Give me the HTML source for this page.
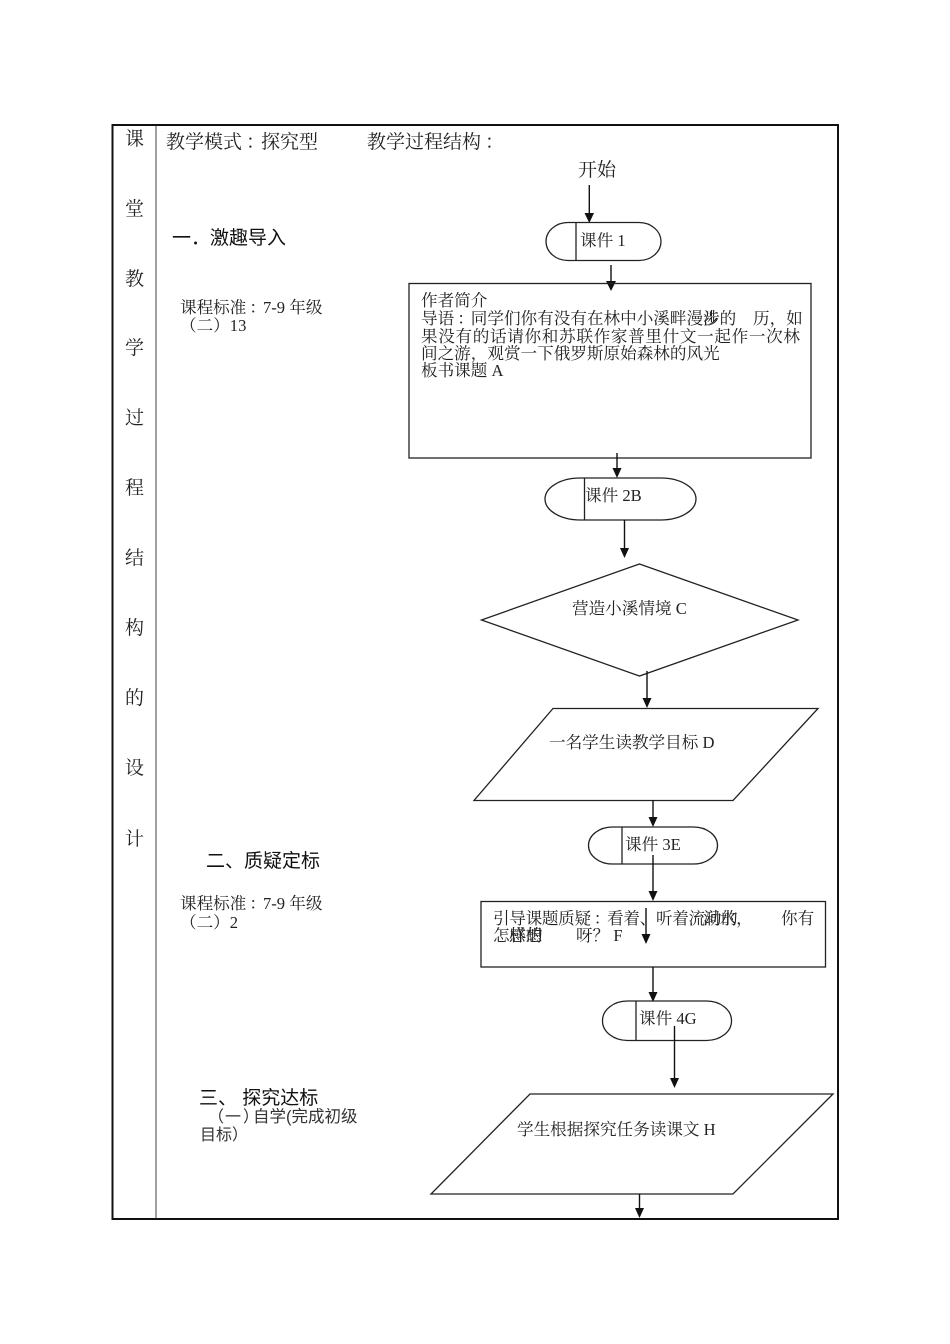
<!DOCTYPE html>
<html lang="zh">
<head>
<meta charset="utf-8">
<style>
html,body{margin:0;padding:0;background:#fff;width:950px;height:1344px;overflow:hidden}
svg{display:block}
text{font-family:"Liberation Serif","Noto Serif CJK SC",serif;fill:#222;white-space:pre}
.s{font-family:"Liberation Sans","Noto Sans CJK SC",sans-serif;fill:#111}
.a{font-size:19px}
.b{font-size:16.6px}
.shape{fill:none;stroke:#222;stroke-width:1.3}
.ln{stroke:#111;stroke-width:1.4;fill:none}
.ah{fill:#111;stroke:none}
</style>
</head>
<body>
<svg width="950" height="1344" viewBox="0 0 950 1344" xmlns="http://www.w3.org/2000/svg">
<rect x="112.500" y="125" width="725.500" height="1094" fill="none" stroke="#111" stroke-width="2"/>
<line x1="156" y1="126" x2="156" y2="1218" stroke="#888" stroke-width="1.6"/>

<g>
<text class="a" x="125" y="145">课</text>
<text class="a" x="125" y="215">堂</text>
<text class="a" x="125" y="285">教</text>
<text class="a" x="125" y="354">学</text>
<text class="a" x="125" y="424">过</text>
<text class="a" x="125" y="494">程</text>
<text class="a" x="125" y="564">结</text>
<text class="a" x="125" y="634">构</text>
<text class="a" x="125" y="704">的</text>
<text class="a" x="125" y="774">设</text>
<text class="a" x="125" y="845">计</text>
</g>

<text class="a" x="166" y="148">教学模式<tspan dx="4">：</tspan><tspan dx="-4">探究型</tspan></text>
<text class="a" x="367" y="148">教学过程结构<tspan dx="4">：</tspan></text>
<text class="a" x="578" y="176">开始</text>

<text class="s" x="172" y="244" font-size="19">一．激趣导入</text>
<text class="b" x="180" y="313">课程标准<tspan dx="3">：</tspan><tspan dx="-3">7-9 年级</tspan></text>
<text class="b" x="180" y="331">（二）13</text>

<text class="s" x="206" y="867" font-size="19">二、质疑定标</text>
<text class="b" x="180" y="909">课程标准<tspan dx="3">：</tspan><tspan dx="-3">7-9 年级</tspan></text>
<text class="b" x="180" y="928">（二）2</text>

<text class="s" x="199" y="1104" font-size="19">三、 探究达标</text>
<text class="s" x="208" y="1122" font-size="16" style="fill:#333">（</text>
<text class="s" x="225" y="1122" font-size="16" style="fill:#333">一</text>
<text class="s" x="243" y="1122" font-size="16" style="fill:#333">）</text>
<text class="s" x="253" y="1122" font-size="16.500" style="fill:#333">自学(完成初级</text>
<text class="s" x="200" y="1140" font-size="16" style="fill:#333">目标）</text>

<line class="ln" x1="589.300" y1="185" x2="589.300" y2="214"/>
<polygon class="ah" points="584.500,213 594,213 589.300,223"/>

<rect class="shape" x="546" y="222.500" width="115" height="38" rx="22" ry="19"/>
<line class="shape" x1="576" y1="222" x2="576" y2="260"/>
<text class="b" x="580" y="246">课件 1</text>
<line class="ln" x1="611" y1="265" x2="611" y2="282"/>
<polygon class="ah" points="606,281 616,281 611,291"/>

<rect class="shape" x="409" y="283.500" width="402" height="174.500"/>
<text class="b" x="421" y="306">作者简介</text>
<text class="b" x="421" y="324">导语<tspan dx="3">：</tspan><tspan dx="-3">同学们你有没有在林中小溪畔漫步的</tspan></text>
<text class="b" x="703" y="324">涉</text>
<text class="b" x="753" y="324">历，如</text>
<text class="b" x="421" y="342" textLength="379" lengthAdjust="spacing">果没有的话请你和苏联作家普里什文一起作一次林</text>
<text class="b" x="421" y="359">间之游，观赏一下俄罗斯原始森林的风光</text>
<text class="b" x="421" y="376">板书课题 A</text>

<line class="ln" x1="617" y1="453" x2="617" y2="469"/>
<polygon class="ah" points="612.500,468 621.500,468 617,478"/>

<rect class="shape" x="545" y="478" width="151" height="42" rx="35" ry="21"/>
<line class="shape" x1="584.500" y1="478" x2="584.500" y2="520"/>
<text class="b" x="585" y="501">课件 2B</text>
<line class="ln" x1="624.500" y1="520" x2="624.500" y2="549"/>
<polygon class="ah" points="620,548 629,548 624.500,558"/>

<polygon class="shape" points="639.500,564 798,620 639.500,676 481.500,620"/>
<text class="b" x="572" y="614">营造小溪情境 C</text>
<line class="ln" x1="647" y1="671" x2="647" y2="699"/>
<polygon class="ah" points="642.500,698 651.500,698 647,708"/>

<polygon class="shape" points="553,708.500 818,708.500 733,800.500 474,800.500"/>
<text class="b" x="549" y="748">一名学生读教学目标 D</text>
<line class="ln" x1="653" y1="800" x2="653" y2="818"/>
<polygon class="ah" points="648.500,817 657.500,817 653,827"/>

<rect class="shape" x="588.500" y="827" width="129" height="37" rx="24" ry="18.500"/>
<line class="shape" x1="622" y1="827" x2="622" y2="864"/>
<text class="b" x="625" y="850">课件 3E</text>
<line class="ln" x1="653" y1="855" x2="653" y2="892"/>
<polygon class="ah" points="648.500,891 657.500,891 653,901"/>

<rect class="shape" x="481" y="901.500" width="344.500" height="65.500"/>
<text class="b" x="493" y="924" letter-spacing="-0.3">引导课题质疑<tspan dx="3">：</tspan><tspan dx="-3">看着、听着流动的</tspan></text>
<text class="b" x="703" y="924">涧水，</text>
<text class="b" x="781" y="924">你有</text>
<text class="b" x="493" y="941">怎样的</text>
<text class="b" x="509" y="941">感想</text>
<text class="b" x="576" y="941">呀？ F</text>
<line class="ln" x1="646" y1="908" x2="646" y2="935"/>
<polygon class="ah" points="641.500,934 650.500,934 646,944"/>
<line class="ln" x1="653" y1="967" x2="653" y2="993"/>
<polygon class="ah" points="648.500,992 657.500,992 653,1002"/>

<rect class="shape" x="602.500" y="1001" width="129" height="39.500" rx="25" ry="19.500"/>
<line class="shape" x1="636" y1="1001" x2="636" y2="1040"/>
<text class="b" x="639" y="1024">课件 4G</text>
<line class="ln" x1="674.500" y1="1026" x2="674.500" y2="1079"/>
<polygon class="ah" points="670,1078 679,1078 674.500,1088"/>

<polygon class="shape" points="530,1094 833,1094 733,1194 431,1194"/>
<text class="b" x="517" y="1135">学生根据探究任务读课文 H</text>
<line class="ln" x1="639.500" y1="1194" x2="639.500" y2="1209"/>
<polygon class="ah" points="635,1208 644,1208 639.500,1218"/>
</svg>
</body>
</html>
